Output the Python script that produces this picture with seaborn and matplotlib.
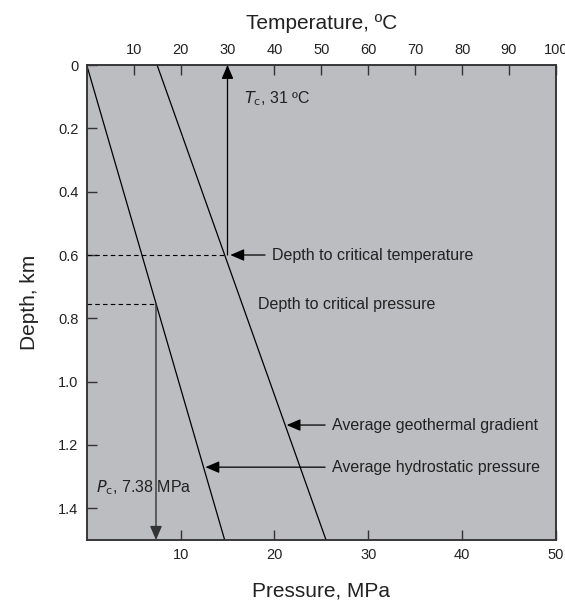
import numpy as np
import pandas as pd
import matplotlib
matplotlib.use("Agg")
import matplotlib.pyplot as plt
import seaborn as sns

# --- data ---
depth_km = [0.0, 1.5]
hydro_pressure_mpa = [0.0, 14.7]      # average hydrostatic pressure
geo_temp_c = [15.0, 51.0]             # average geothermal gradient
tc_depth_km = 0.6                     # depth to critical temperature
tc_temp_c = 30.0                      # where Tc arrow is drawn
pc_depth_km = 0.755                   # depth to critical pressure
pc_pressure_mpa = 7.38
pressure_ticks = [10, 20, 30, 40, 50]
temp_ticks = [10, 20, 30, 40, 50, 60, 70, 80, 90, 100]
depth_ticks = [0, 0.2, 0.4, 0.6, 0.8, 1.0, 1.2, 1.4]
depth_ticklabels = ["0", "0.2", "0.4", "0.6", "0.8", "1.0", "1.2", "1.4"]

sns.set_theme(style="ticks")
plt.rcParams["font.family"] = ["Liberation Sans", "DejaVu Sans"]

bg = "#bcbdc0"
fc = "#222222"

fig = plt.figure(figsize=(5.65, 6.02), dpi=100)
ax = fig.add_axes([0.1535, 0.103, 0.8305, 0.789])
ax.set_facecolor(bg)
ax2 = ax.twiny()

hyd = pd.DataFrame({"P": hydro_pressure_mpa, "D": depth_km})
geo = pd.DataFrame({"T": geo_temp_c, "D": depth_km})
sns.lineplot(data=hyd, x="P", y="D", ax=ax, color="black", lw=0.9, sort=False, estimator=None)
sns.lineplot(data=geo, x="T", y="D", ax=ax2, color="black", lw=0.9, sort=False, estimator=None)

ax.set_xlim(0, 50)
ax2.set_xlim(0, 100)
ax.set_ylim(1.5, 0)

# dashed guides
ax2.plot([0, tc_temp_c], [tc_depth_km, tc_depth_km], ls=(0, (4, 3)), color="black", lw=0.8)
ax.plot([0, pc_pressure_mpa], [pc_depth_km, pc_depth_km], ls=(0, (4, 3)), color="black", lw=0.8)

# Tc arrow (up) and Pc arrow (down)
ax2.annotate("", xy=(tc_temp_c, 0.0), xytext=(tc_temp_c, tc_depth_km),
             arrowprops=dict(arrowstyle="-|>,head_length=0.7,head_width=0.3", color="black", lw=0.9, shrinkA=0, shrinkB=0))
ax.annotate("", xy=(pc_pressure_mpa, 1.5), xytext=(pc_pressure_mpa, pc_depth_km),
            arrowprops=dict(arrowstyle="-|>,head_length=0.7,head_width=0.3", color="#333333", lw=1.0, shrinkA=0, shrinkB=0))

# labels
ax2.text(33.5, 0.105, r"$\mathit{T}_{\mathrm{c}}$, 31 ºC", fontsize=11.5, color=fc, va="center")
ax.text(1.0, 1.335, r"$\mathit{P}_{\mathrm{c}}$, 7.38 MPa", fontsize=11.5, color=fc, va="center")

arrow_kw = dict(arrowstyle="-|>,head_length=0.7,head_width=0.3", color="black", lw=0.9, shrinkA=0, shrinkB=0)
ax2.annotate("", xy=(tc_temp_c + 0.6, tc_depth_km), xytext=(38.0, tc_depth_km), arrowprops=arrow_kw)
ax2.text(39.5, tc_depth_km, "Depth to critical temperature", fontsize=11.5, color=fc, va="center")
ax.text(18.2, 0.755, "Depth to critical pressure", fontsize=11.5, color=fc, va="center")
ax.annotate("", xy=(21.3, 1.137), xytext=(25.4, 1.137), arrowprops=arrow_kw)
ax.text(26.1, 1.137, "Average geothermal gradient", fontsize=11.5, color=fc, va="center")
ax.annotate("", xy=(12.65, 1.27), xytext=(25.4, 1.27), arrowprops=arrow_kw)
ax.text(26.1, 1.27, "Average hydrostatic pressure", fontsize=11.5, color=fc, va="center")

# axes styling
ax.set_xticks(pressure_ticks)
ax.set_yticks(depth_ticks)
ax.set_yticklabels(depth_ticklabels)
ax2.set_xticks(temp_ticks)
for a in (ax, ax2):
    a.tick_params(direction="in", length=7, width=1, color="#333333", labelsize=10.5, labelcolor=fc, pad=6)
    for s in a.spines.values():
        s.set_color("#333333")
        s.set_linewidth(1.1)
ax.set_xlabel("Pressure, MPa", fontsize=15, color=fc, labelpad=14)
ax.set_ylabel("Depth, km", fontsize=15, color=fc, labelpad=14)
ax2.set_xlabel("Temperature, ºC", fontsize=15, color=fc, labelpad=10)
ax2.set_ylim(1.5, 0)

fig.savefig("out.png", dpi=100)
